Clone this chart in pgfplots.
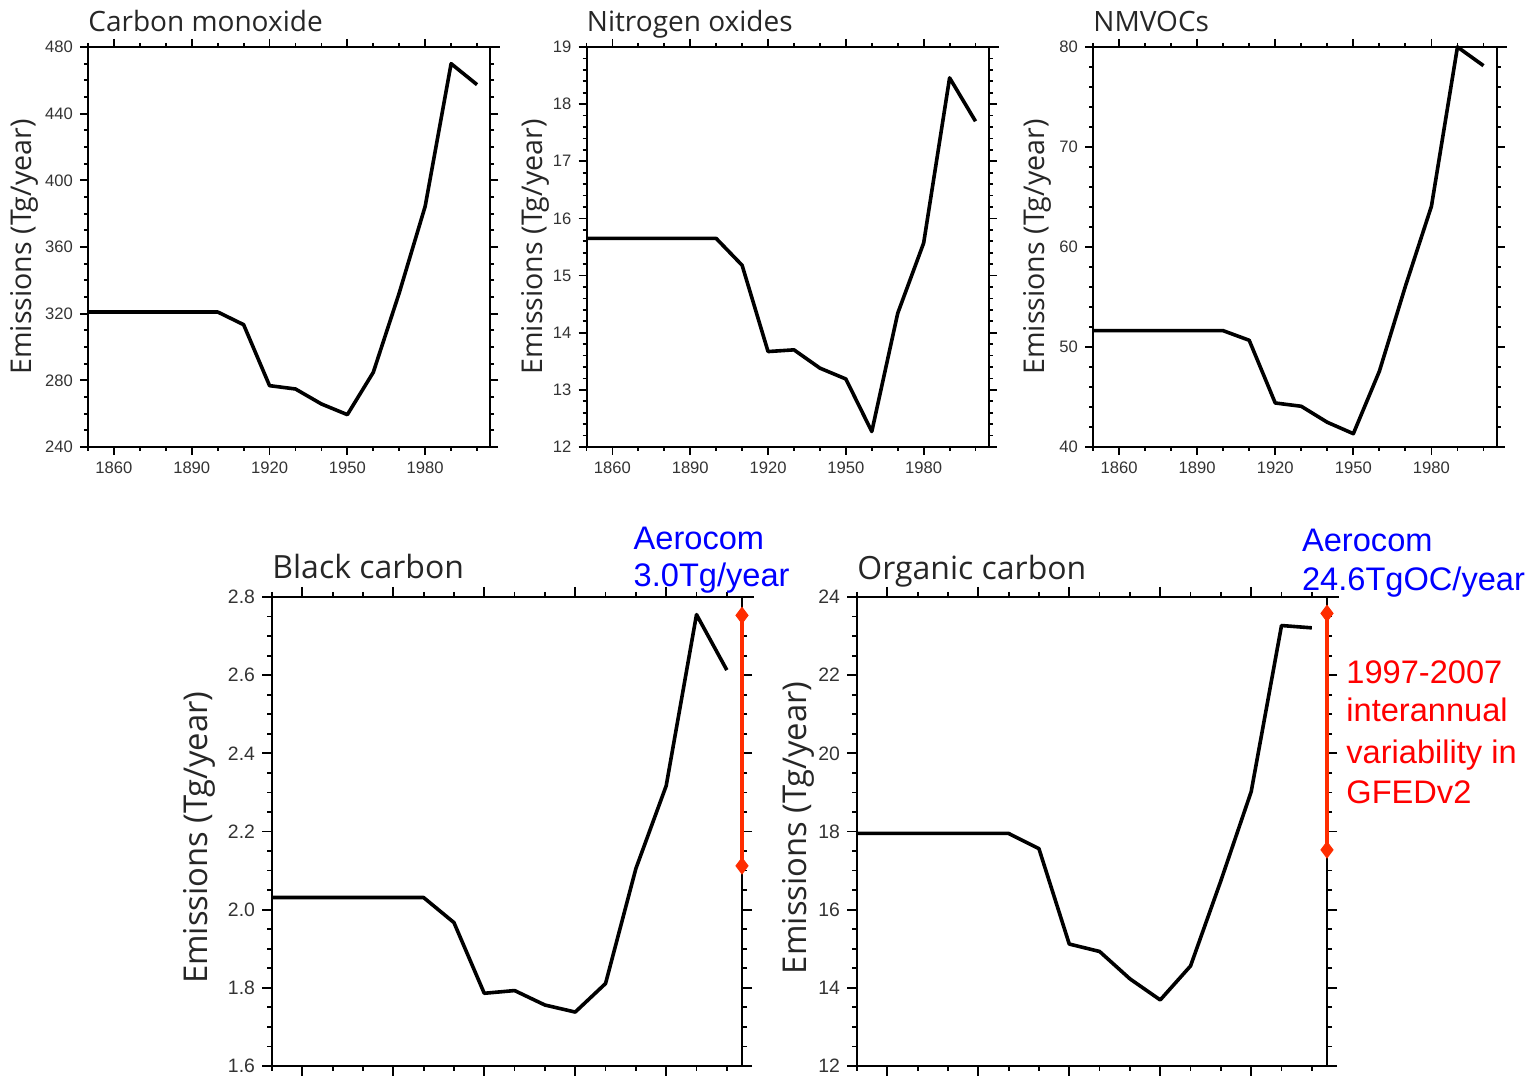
\documentclass[border=0pt]{standalone}
\usepackage{pgfplots}
\pgfplotsset{compat=1.18}
\usepackage{pgfplotstable}
\usepackage{fontspec}
\setmainfont{Liberation Sans}
\newfontfamily\osans{Open Sans}
\definecolor{barred}{RGB}{255,45,0}
\definecolor{txtred}{RGB}{255,0,0}
\definecolor{txtblue}{RGB}{0,0,255}

\pgfplotstableread{
yr   co    nox   voc   bc    oc
1850 321.0 15.65 51.63 2.031 17.95
1860 321.0 15.65 51.63 2.031 17.95
1870 321.0 15.65 51.63 2.031 17.95
1880 321.0 15.65 51.63 2.031 17.95
1890 321.0 15.65 51.63 2.031 17.95
1900 321.0 15.65 51.63 2.031 17.95
1910 313.4 15.18 50.67 1.967 17.56
1920 276.8 13.67 44.40 1.786 15.12
1930 274.8 13.70 44.07 1.793 14.93
1940 265.8 13.38 42.47 1.756 14.23
1950 259.4 13.19 41.33 1.738 13.69
1960 284.8 12.27 47.57 1.811 14.56
1970 332.4 14.34 56.07 2.105 16.74
1980 384.4 15.57 64.07 2.317 19.02
1990 470.0 18.46 80.00 2.755 23.27
2000 457.4 17.70 78.13 2.613 23.21
}\data

\tikzset{ttl/.style={anchor=base west, inner sep=0pt, text=black!85}}

\pgfplotsset{
  panel/.style={
    scale only axis, clip=false,
    xmin=1850, xmax=2005,
    xtick={1860,1890,1920,1950,1980},
    minor xtick={1850,1860,...,2000},
    tick align=outside,
    axis line style={line width=1pt},
    every tick/.style={black, line width=0.9pt},
    /pgf/number format/1000 sep={},
    /pgf/number format/assume math mode=true,
    ylabel={Emissions (Tg/year)},
    tick label style={font=\fontsize{8.3}{10}\selectfont, text=black!80},
  },
  toppanel/.style={panel, width=201pt, height=200pt, major tick length=4pt, minor tick length=2pt,
    ylabel style={font=\osans\fontsize{14.3}{16}\selectfont, text=black!85}},
  botpanel/.style={panel, width=235pt, height=234.5pt, major tick length=5pt, minor tick length=2.5pt,
    xticklabels={},
    ylabel style={font=\osans\fontsize{16.4}{18}\selectfont, text=black!85},
    tick label style={font=\fontsize{9.7}{11}\selectfont}},
  dat/.style={black, line width=1.8pt, no markers, line join=round},
  rbar/.style={barred, line width=1.6pt, mark=diamond*, mark size=4pt, mark options={solid, fill=barred, draw=barred, line width=0.5pt}},
}

\begin{document}
\begin{tikzpicture}
\useasboundingbox (0,0) rectangle (766pt,540pt);

% Carbon monoxide
\begin{axis}[toppanel, at={(44pt,316.5pt)}, anchor=south west,
  ymin=240, ymax=480, ytick={240,280,...,480}, minor ytick={240,250,...,480},
  ylabel style={at={(axis description cs:-0.157,0.5)}, anchor=center}]
\addplot[dat] table[x=yr, y=co] {\data};
\draw[line width=1pt] (rel axis cs:1,1) -- (rel axis cs:1.025,1);
\node[ttl, font=\osans\fontsize{14}{16}\selectfont, yshift=7.6pt] at (rel axis cs:0,1) {Carbon monoxide};
\end{axis}

% Nitrogen oxides
\begin{axis}[toppanel, at={(293.25pt,316.5pt)}, anchor=south west,
  ymin=12, ymax=19, ytick={12,13,...,19}, minor ytick={12,12.2,...,19},
  ylabel style={at={(axis description cs:-0.128,0.5)}, anchor=center}]
\addplot[dat] table[x=yr, y=nox] {\data};
\draw[line width=1pt] (rel axis cs:1,1) -- (rel axis cs:1.025,1);
\node[ttl, font=\osans\fontsize{14}{16}\selectfont, yshift=7.6pt] at (rel axis cs:0,1) {Nitrogen oxides};
\end{axis}

% NMVOCs
\begin{axis}[toppanel, at={(546.5pt,316.5pt)}, anchor=south west, width=201.75pt,
  ymin=40, ymax=80, ytick={40,50,...,80}, minor ytick={40,42,...,80},
  ylabel style={at={(axis description cs:-0.1375,0.5)}, anchor=center}]
\addplot[dat] table[x=yr, y=voc] {\data};
\draw[line width=1pt] (rel axis cs:1,1) -- (rel axis cs:1.025,1);
\node[ttl, font=\osans\fontsize{14}{16}\selectfont, yshift=7.6pt] at (rel axis cs:0,1) {NMVOCs};
\end{axis}

% Black carbon
\begin{axis}[botpanel, at={(136pt,7pt)}, anchor=south west,
  ymin=1.6, ymax=2.8, ytick={1.6,1.8,...,2.8}, minor ytick={1.6,1.65,...,2.8},
  yticklabel style={/pgf/number format/.cd, fixed, fixed zerofill, precision=1},
  ylabel style={at={(axis description cs:-0.155,0.487)}, anchor=center}]
\addplot[dat] table[x=yr, y=bc] {\data};
\addplot[rbar] coordinates {(2005,2.112) (2005,2.753)};
\draw[line width=1pt] (rel axis cs:1,1) -- (rel axis cs:1.0255,1);
\node[ttl, font=\osans\fontsize{16}{18}\selectfont, yshift=9.3pt] at (rel axis cs:0,1) {Black carbon};
\end{axis}

% Organic carbon
\begin{axis}[botpanel, at={(428.5pt,7pt)}, anchor=south west,
  ymin=12, ymax=24, ytick={12,14,...,24}, minor ytick={12,12.5,...,24},
  ylabel style={at={(axis description cs:-0.1255,0.508)}, anchor=center}]
\addplot[dat] table[x=yr, y=oc] {\data};
\addplot[rbar] coordinates {(2005,17.53) (2005,23.58)};
\draw[line width=1pt] (rel axis cs:1,1) -- (rel axis cs:1.0255,1);
\node[ttl, font=\osans\fontsize{16}{18}\selectfont, yshift=8.6pt] at (rel axis cs:0,1) {Organic carbon};
\end{axis}

% annotations
\begin{scope}[every node/.style={anchor=base west, inner sep=0pt, font=\fontsize{16.3}{19}\selectfont}]
\node[text=txtblue] at (316.65pt,265.35pt) {Aerocom};
\node[text=txtblue] at (316.65pt,246.65pt) {3.0Tg/year};
\node[text=txtblue] at (650.85pt,264.15pt) {Aerocom};
\node[text=txtblue] at (650.85pt,244.65pt) {24.6TgOC/year};
\node[text=txtred] at (673pt,198.35pt) {1997-2007};
\node[text=txtred] at (673pt,179.15pt) {interannual};
\node[text=txtred] at (673pt,158.35pt) {variability in};
\node[text=txtred] at (673pt,138.35pt) {GFEDv2};
\end{scope}
\end{tikzpicture}
\end{document}
